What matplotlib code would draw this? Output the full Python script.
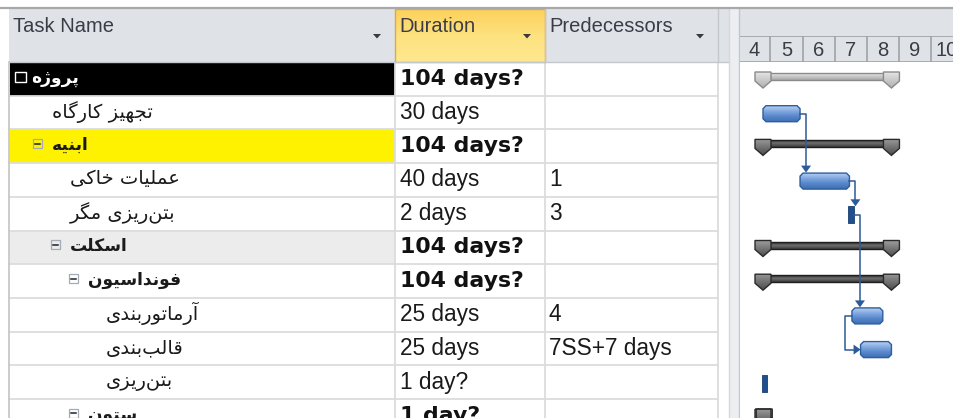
import numpy as np
import matplotlib
matplotlib.use('Agg')
import matplotlib.pyplot as plt
from matplotlib.patches import Rectangle, Polygon
from matplotlib.colors import LinearSegmentedColormap

# ---------------- data ----------------
columns = ['Task Name', 'Duration', 'Predecessors']
task_names = ['پروژه', 'تجهیز کارگاه', 'ابنیه', 'عملیات خاکی', 'بتن\u200cریزی مگر',
              'اسکلت', 'فونداسیون', 'آرماتوربندی', 'قالب\u200cبندی', 'بتن\u200cریزی', 'ستون']
outline_level = [0, 1, 1, 2, 2, 2, 3, 4, 4, 4, 3]
is_summary = [True, False, True, False, False, True, True, False, False, False, True]
durations = ['104 days?', '30 days', '104 days?', '40 days', '2 days', '104 days?',
             '104 days?', '25 days', '25 days', '1 day?', '1 day?']
predecessors = ['', '', '', '1', '3', '', '', '4', '7SS+7 days', '', '']
start_day = [0, 0, 0, 30, 70, 0, 0, 72, 79, 0, 0]
dur_days = [104, 30, 104, 40, 2, 104, 104, 25, 25, 1, 1]
name_bg = ['#000000', None, '#fff200', None, None, '#ececec', None, None, None, None, None]
links = [(1, 3, 'FS'), (3, 4, 'FS'), (4, 7, 'FS'), (7, 8, 'SS')]
months = [4, 5, 6, 7, 8, 9, 10]
month_len = 26
first_month_start = -20

# ---------------- simple Persian shaping ----------------
FORMS = {
    '\u0627': ('\uFE8D', '\uFE8E', None, None),
    '\u0622': ('\uFE81', '\uFE82', None, None),
    '\u0628': ('\uFE8F', '\uFE90', '\uFE91', '\uFE92'),
    '\u062A': ('\uFE95', '\uFE96', '\uFE97', '\uFE98'),
    '\u062C': ('\uFE9D', '\uFE9E', '\uFE9F', '\uFEA0'),
    '\u062E': ('\uFEA5', '\uFEA6', '\uFEA7', '\uFEA8'),
    '\u062F': ('\uFEA9', '\uFEAA', None, None),
    '\u0631': ('\uFEAD', '\uFEAE', None, None),
    '\u0632': ('\uFEAF', '\uFEB0', None, None),
    '\u0633': ('\uFEB1', '\uFEB2', '\uFEB3', '\uFEB4'),
    '\u0639': ('\uFEC9', '\uFECA', '\uFECB', '\uFECC'),
    '\u0641': ('\uFED1', '\uFED2', '\uFED3', '\uFED4'),
    '\u0642': ('\uFED5', '\uFED6', '\uFED7', '\uFED8'),
    '\u0644': ('\uFEDD', '\uFEDE', '\uFEDF', '\uFEE0'),
    '\u0645': ('\uFEE1', '\uFEE2', '\uFEE3', '\uFEE4'),
    '\u0646': ('\uFEE5', '\uFEE6', '\uFEE7', '\uFEE8'),
    '\u0647': ('\uFEE9', '\uFEEA', '\uFEEB', '\uFEEC'),
    '\u0648': ('\uFEED', '\uFEEE', None, None),
    '\u06CC': ('\uFBFC', '\uFBFD', '\uFBFE', '\uFBFF'),
    '\u06A9': ('\uFB8E', '\uFB8F', '\uFB90', '\uFB91'),
    '\u06AF': ('\uFB92', '\uFB93', '\uFB94', '\uFB95'),
    '\u067E': ('\uFB56', '\uFB57', '\uFB58', '\uFB59'),
    '\u0698': ('\uFB8A', '\uFB8B', None, None),
}


def shape(s):
    out = []
    for i, ch in enumerate(s):
        if ch not in FORMS:
            if ch != '\u200c':
                out.append(ch)
            continue
        prev = s[i - 1] if i > 0 else ''
        nxt = s[i + 1] if i + 1 < len(s) else ''
        jp = prev in FORMS and FORMS[prev][2] is not None
        jn = FORMS[ch][2] is not None and nxt in FORMS
        f = FORMS[ch]
        if jp and jn:
            out.append(f[3])
        elif jp:
            out.append(f[1])
        elif jn:
            out.append(f[2])
        else:
            out.append(f[0])
    return ''.join(reversed(out))


# ---------------- figure ----------------
W, H = 954, 418
fig = plt.figure(figsize=(W / 100, H / 100), dpi=100)
ax = fig.add_axes([0, 0, 1, 1])
ax.set_xlim(0, W)
ax.set_ylim(H, 0)
ax.axis('off')

col_x = [9, 395, 545, 718]
head_top, head_bot = 9, 62
row_h = 33.7
grid_c = '#dadcde'

# header background
ax.add_patch(Rectangle((col_x[0], head_top), 729 - col_x[0], head_bot - head_top,
                       facecolor='#dfe3e8', edgecolor='none', zorder=1))
# duration header (highlighted)
grad = np.linspace(0, 1, 64).reshape(-1, 1)
cm_or = LinearSegmentedColormap.from_list('or', ['#fcd15c', '#fde27f', '#ffe88f'])
ax.imshow(grad, cmap=cm_or, extent=(col_x[1], col_x[2], head_bot, head_top),
          aspect='auto', origin='upper', zorder=2)
ax.add_patch(Rectangle((col_x[1], head_top), col_x[2] - col_x[1], head_bot - head_top,
                       facecolor='none', edgecolor='#e3a646', lw=1.0, zorder=3))
for xc in [col_x[2], col_x[3]]:
    ax.plot([xc, xc], [head_top, head_bot], color='#c3c8cf', lw=1.0, zorder=3)
ax.plot([col_x[0], 729], [head_bot, head_bot], color='#c3c8cf', lw=1.0, zorder=3)
ax.plot([0, W], [8, 8], color='#a8a8a8', lw=1.6, zorder=4)

head_font = dict(family='Liberation Sans', fontsize=14.5, color='#3c3c46')
for name, x0, x1 in zip(columns, col_x[:-1], col_x[1:]):
    ax.text(x0 + 4, 27, name, ha='left', va='center', zorder=5, **head_font)
    ax_tri = x1 - 18
    ax.add_patch(Polygon([[ax_tri - 4, 34], [ax_tri + 4, 34], [ax_tri, 38.5]],
                         closed=True, facecolor='#3a3a3a', edgecolor='none', zorder=5))

# rows
n = len(task_names)
for i in range(n):
    y0 = head_bot + i * row_h
    yc = y0 + row_h / 2
    if name_bg[i]:
        ax.add_patch(Rectangle((col_x[0] + 1, y0), col_x[1] - col_x[0] - 1, row_h,
                               facecolor=name_bg[i], edgecolor='none', zorder=1))
    ax.plot([col_x[0], col_x[3]], [y0 + row_h, y0 + row_h], color=grid_c, lw=1.3, zorder=2)
    lvl = outline_level[i]
    tx = 31 if lvl == 0 else 34 + 18 * lvl
    dark = name_bg[i] == '#000000'
    tcol = 'white' if dark else '#1a1a1a'
    if is_summary[i]:
        if dark:
            ax.add_patch(Rectangle((15, yc - 7), 11, 10, facecolor='none',
                                   edgecolor='white', lw=1.0, zorder=3))
        else:
            bx = tx - 19
            ax.add_patch(Rectangle((bx, yc - 7), 9, 9, facecolor='none',
                                   edgecolor='#a3abb8', lw=0.9, zorder=3))
            ax.plot([bx + 2, bx + 7], [yc - 2.5, yc - 2.5], color='#202020', lw=1.1, zorder=4)
    ax.text(tx, yc - 1, shape(task_names[i]), ha='left', va='center', color=tcol,
            family='DejaVu Sans', fontsize=12.3 if is_summary[i] else 14,
            fontweight='bold' if is_summary[i] else 'normal', zorder=5)
    if is_summary[i]:
        ax.text(col_x[1] + 5, yc, durations[i], ha='left', va='center', color='#111111',
                family='DejaVu Sans', fontweight='bold', fontsize=15.8, zorder=5)
    else:
        ax.text(col_x[1] + 5, yc, durations[i], ha='left', va='center', color='#1a1a1a',
                family='Liberation Sans', fontsize=16.3, zorder=5)
    if predecessors[i]:
        ax.text(col_x[2] + 4, yc, predecessors[i], ha='left', va='center', color='#1a1a1a',
                family='Liberation Sans', fontsize=16.3, zorder=5)

for xc in col_x:
    ax.plot([xc, xc], [head_bot, H], color=grid_c if xc != col_x[0] else '#c8c8c8',
            lw=1.3, zorder=2)

# splitter
ax.add_patch(Rectangle((729, head_top), 10, H - head_top, facecolor='#eceef1',
                       edgecolor='none', zorder=2))
ax.plot([729, 729], [head_top, H], color='#d4d7dc', lw=1.0, zorder=3)
ax.plot([739, 739], [head_top, H], color='#c2c7ce', lw=1.0, zorder=3)
# gantt header top band
ax.add_patch(Rectangle((740, head_top), W - 740, head_bot - head_top, facecolor='#dfe3e8',
                       edgecolor='none', zorder=1))

# ---------------- Gantt ----------------
px_per_day = 1.235
day0_px = 763
gx0 = 740
xlim = ((gx0 - day0_px) / px_per_day, (W - day0_px) / px_per_day)
sx = 1 / px_per_day
sy = 1 / row_h

gax = fig.add_axes([gx0 / W, 0, (W - gx0) / W, (H - head_bot) / H])
gax.set_facecolor('white')
for s in gax.spines.values():
    s.set_visible(False)
gax.set_xticks([])
gax.set_yticks([])

# timescale
tax = fig.add_axes([gx0 / W, (H - head_bot) / H, (W - gx0) / W, 26 / H])
tax.set_facecolor('#dfe3e8')
for s in tax.spines.values():
    s.set_visible(False)
tax.set_xticks([])
tax.set_yticks([])
tax.set_xlim(*xlim)
tax.set_ylim(0, 1)
tax.axhline(1, color='#9ea3aa', lw=1.2)
tax.axhline(0, color='#9ea3aa', lw=1.2)
for k, m in enumerate(months):
    ms = first_month_start + k * month_len
    tax.axvline(ms, color='#9ea3aa', lw=1.2)
    tax.text(ms + month_len / 2, 0.45, str(m), ha='center', va='center',
             family='Liberation Sans', fontsize=14.5, color='#3c3c46', clip_on=True)
tax.axvline(first_month_start + len(months) * month_len, color='#9ea3aa', lw=1.2)


def grad_poly(a, verts, colors, ec, lw, z):
    verts = np.asarray(verts, float)
    poly = Polygon(verts, closed=True, facecolor='none', edgecolor=ec, lw=lw, zorder=z + 0.1)
    a.add_patch(poly)
    cmap = LinearSegmentedColormap.from_list('g', colors)
    im = a.imshow(grad, cmap=cmap,
                  extent=(verts[:, 0].min(), verts[:, 0].max(), verts[:, 1].max(), verts[:, 1].min()),
                  aspect='auto', origin='upper', interpolation='bilinear', zorder=z)
    im.set_clip_path(poly)


def summary_bar(row, s, e, light):
    if light:
        body_c, body_ec = ['#e8e8e8', '#c8c8c8', '#a8a8a8'], '#8a8a8a'
        cap_c, cap_ec = ['#e4e4e4', '#b0b0b0'], '#8a8a8a'
    else:
        body_c, body_ec = ['#2e2e2e', '#6e6e6e', '#3a3a3a'], '#1e1e1e'
        cap_c, cap_ec = ['#9a9a9a', '#4c4c4c'], '#2a2a2a'
    grad_poly(gax, [[s, row + 11 * sy], [e, row + 11 * sy], [e, row + 18 * sy], [s, row + 18 * sy]],
              body_c, body_ec, 1.0, 3)
    for c in (s, e):
        grad_poly(gax, [[c - 8 * sx, row + 10 * sy], [c + 8 * sx, row + 10 * sy],
                        [c + 8 * sx, row + 19 * sy], [c, row + 26 * sy], [c - 8 * sx, row + 19 * sy]],
                  cap_c, cap_ec, 1.0, 4)


def task_bar(row, s, e):
    if (e - s) * px_per_day < 8:
        gax.add_patch(Rectangle((s - 1 * sx, row + 9.5 * sy), max(e - s, 4.5 * sx) + 1 * sx, 17 * sy,
                                facecolor='#1f4f8f', edgecolor='#173d70', lw=0.6, zorder=5))
        return
    c = 3
    y0, y1 = row + 10 * sy, row + 26 * sy
    verts = [[s + c * sx, y0], [e - c * sx, y0], [e, y0 + c * sy], [e, y1 - c * sy],
             [e - c * sx, y1], [s + c * sx, y1], [s, y1 - c * sy], [s, y0 + c * sy]]
    grad_poly(gax, verts, ['#b6cff2', '#7fa7df', '#5586c9', '#3f6fb2'], '#2d5e9e', 1.0, 5)


for i in range(n):
    s, e = start_day[i], start_day[i] + dur_days[i]
    if is_summary[i]:
        summary_bar(i, s, e, light=(outline_level[i] == 0))
    else:
        task_bar(i, s, e)

link_c = '#2b5b9a'
for p, q, kind in links:
    ps, pe = start_day[p], start_day[p] + dur_days[p]
    qs = start_day[q]
    if kind == 'FS':
        pe_vis = max(pe, ps + 4.5 * sx)
        xv = pe_vis + 6 * sx
        ym = p + 18 * sy
        tip = q + 9.5 * sy
        gax.plot([pe_vis, xv, xv], [ym, ym, tip - 6 * sy], color=link_c, lw=1.1, zorder=6)
        gax.add_patch(Polygon([[xv - 5 * sx, tip - 7 * sy], [xv + 5 * sx, tip - 7 * sy], [xv, tip]],
                              closed=True, facecolor=link_c, edgecolor='none', zorder=6))
    else:
        xl = ps - 7 * sx
        y_from = p + 18 * sy
        y_to = q + 18 * sy
        gax.plot([ps, xl, xl, qs - 6 * sx], [y_from, y_from, y_to, y_to], color=link_c, lw=1.1,
                 zorder=6)
        gax.add_patch(Polygon([[qs - 7 * sx, y_to - 5 * sy], [qs - 7 * sx, y_to + 5 * sy], [qs, y_to]],
                              closed=True, facecolor=link_c, edgecolor='none', zorder=6))

gax.set_xlim(*xlim)
gax.set_ylim((H - head_bot) / row_h, 0)

fig.savefig('out.png', dpi=100)
